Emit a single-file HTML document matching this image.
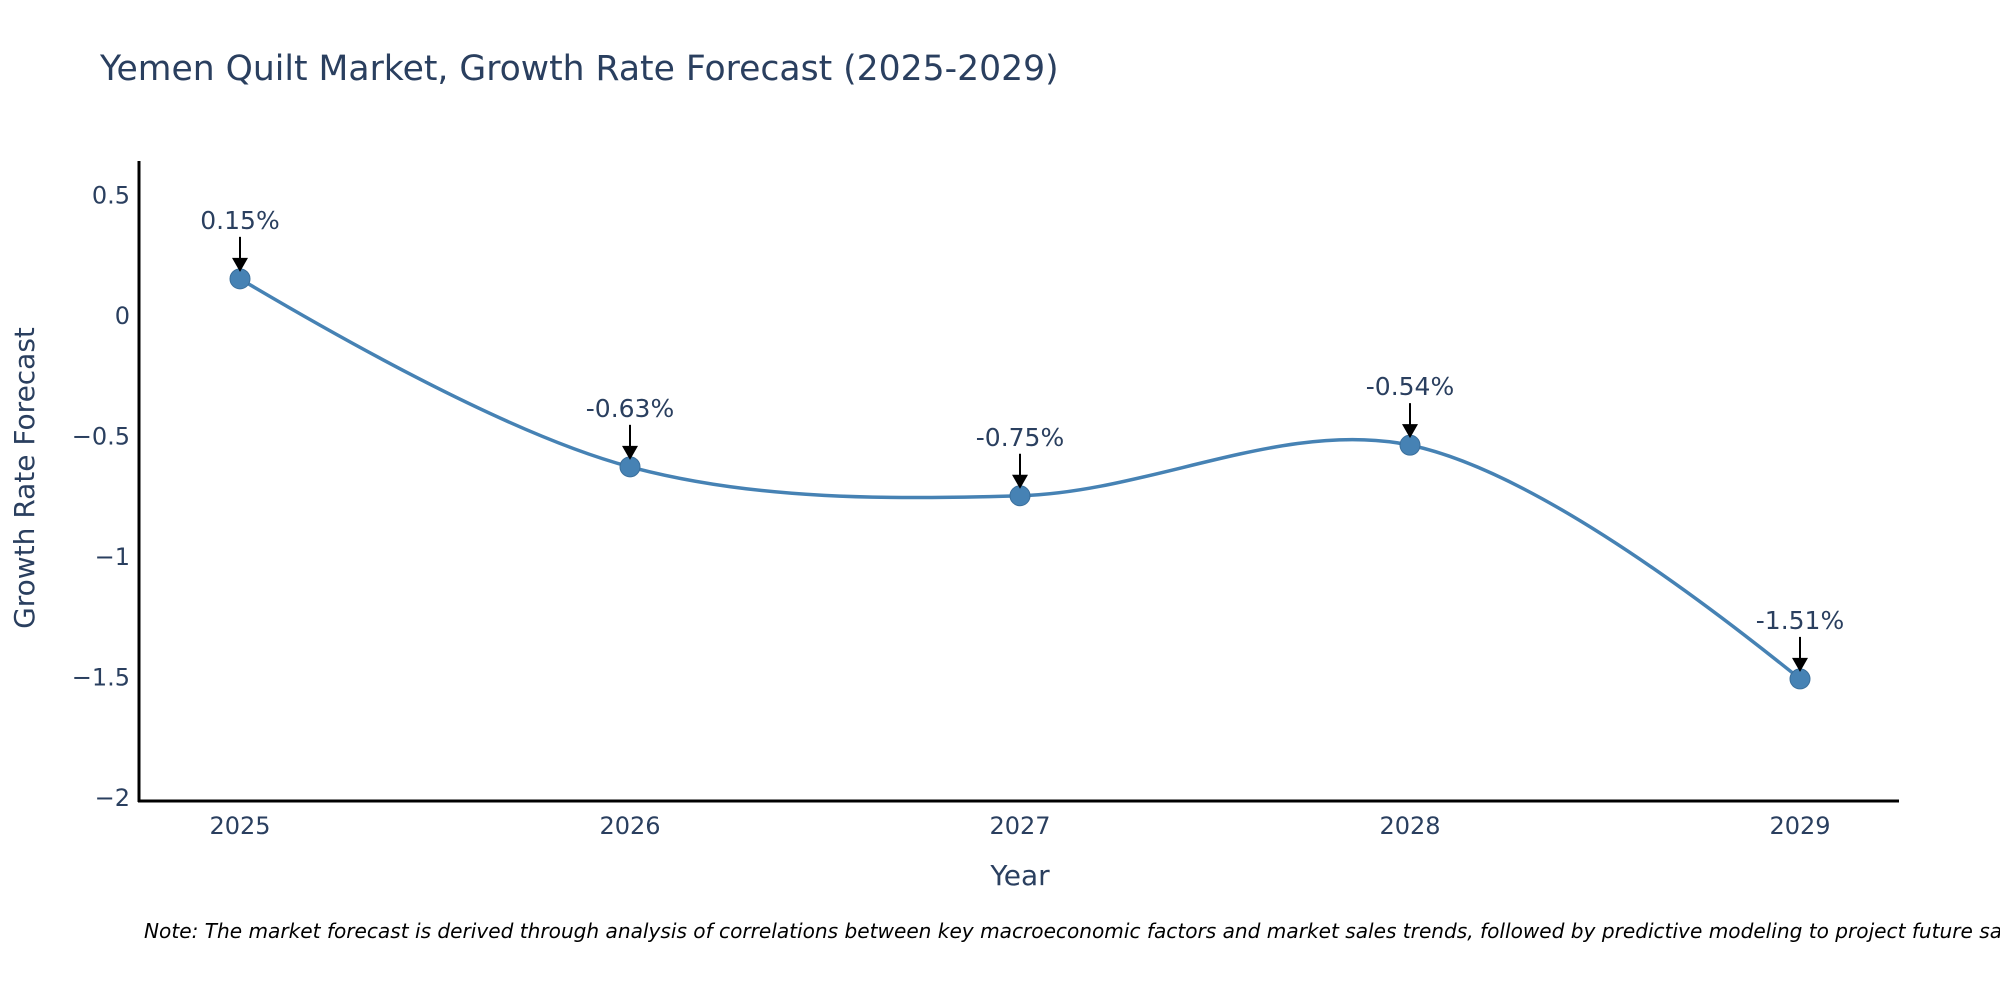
<!DOCTYPE html>
<html><head><meta charset="utf-8">
<style>
html,body{margin:0;padding:0;background:#fff;}
svg{display:block;font-family:"DejaVu Sans","Liberation Sans",sans-serif;}
</style></head>
<body>
<svg id="chart" width="2000" height="1000" viewBox="0 0 2000 1000" xmlns="http://www.w3.org/2000/svg">
<text x="100" y="80" font-size="34.6" fill="#2a3f5f">Yemen Quilt Market, Growth Rate Forecast (2025-2029)</text>
<g id="yticks"></g>
<g id="xticks"></g>
<path id="line" fill="none" stroke="#4682b4" stroke-width="3.5"></path>
<g id="points"></g>
<g id="annos"></g>
<line x1="139" y1="161" x2="139" y2="802" stroke="#000" stroke-width="3"/>
<line x1="138" y1="801" x2="1899" y2="801" stroke="#000" stroke-width="3"/>
<text transform="translate(34,478) rotate(-90)" text-anchor="middle" font-size="28" fill="#2a3f5f">Growth Rate Forecast</text>
<text x="1020" y="885" text-anchor="middle" font-size="28" fill="#2a3f5f">Year</text>
<text x="144" y="938" font-size="20.1" font-style="italic" fill="#000">Note: The market forecast is derived through analysis of correlations between key macroeconomic factors and market sales trends, followed by predictive modeling to project future sales.</text>
</svg>
<script>
const years = [2025, 2026, 2027, 2028, 2029];
const growth = [0.15, -0.63, -0.75, -0.54, -1.51];
const labels = ["0.15%", "-0.63%", "-0.75%", "-0.54%", "-1.51%"];
const yTickVals = [0.5, 0, -0.5, -1, -1.5, -2];
const yTickLabels = ["0.5", "0", "\u22120.5", "\u22121", "\u22121.5", "\u22122"];

const NS = "http://www.w3.org/2000/svg";
function xs(v){ return 240 + (v - 2025) * 390; }
function ys(v){ return 315 - v * 241; }
function mk(tag, attrs, parent){ const e=document.createElementNS(NS,tag); for(const k in attrs) e.setAttribute(k,attrs[k]); parent.appendChild(e); return e; }

const yt = document.getElementById('yticks');
yTickVals.forEach((v,i)=>{
  const t = mk('text',{x:130,y:ys(v)+9,'text-anchor':'end','font-size':24,fill:'#2a3f5f'},yt);
  
  
  t.textContent = yTickLabels[i];
});
const xt = document.getElementById('xticks');
years.forEach(y=>{
  const t = mk('text',{x:xs(y),y:834,'text-anchor':'middle','font-size':24,fill:'#2a3f5f'},xt);
  
  
  t.textContent = String(y);
});

const pts = years.map((y,i)=>[xs(y), ys(growth[i])]);
function tangent(p,c,n,s){
  const d1x=p[0]-c[0], d1y=p[1]-c[1], d2x=n[0]-c[0], d2y=n[1]-c[1];
  const d1a=Math.pow(d1x*d1x+d1y*d1y,0.25), d2a=Math.pow(d2x*d2x+d2y*d2y,0.25);
  const nx=(d2a*d2a*d1x-d1a*d1a*d2x)*s, ny=(d2a*d2a*d1y-d1a*d1a*d2y)*s;
  const den1=3*d2a*(d1a+d2a), den2=3*d1a*(d1a+d2a);
  return [[c[0]+nx/den1, c[1]+ny/den1],[c[0]-nx/den2, c[1]-ny/den2]];
}
const tg=[];
for(let i=1;i<pts.length-1;i++) tg.push(tangent(pts[i-1],pts[i],pts[i+1],1));
let d = 'M'+pts[0]+'Q'+tg[0][0]+' '+pts[1];
for(let i=2;i<pts.length-1;i++) d += 'C'+tg[i-2][1]+' '+tg[i-1][0]+' '+pts[i];
d += 'Q'+tg[pts.length-3][1]+' '+pts[pts.length-1];
document.getElementById('line').setAttribute('d', d);

const pg = document.getElementById('points');
const ag = document.getElementById('annos');
pts.forEach((p,i)=>{
  const c = mk('circle',{cx:p[0],cy:p[1],r:10,fill:'#4682b4',stroke:'#3a6f9c','stroke-width':1},pg);
  
  
  const ln = mk('line',{x1:p[0],y1:p[1]-42,x2:p[0],y2:p[1]-20,stroke:'#000','stroke-width':2},ag);
  
  
  const hd = mk('path',{d:`M${p[0]-8},${p[1]-21} L${p[0]+8},${p[1]-21} L${p[0]},${p[1]-7} Z`,fill:'#000'},ag);
  
  
  const t = mk('text',{x:p[0],y:p[1]-50,'text-anchor':'middle','font-size':25,fill:'#2a3f5f'},ag);
  
  
  t.textContent = labels[i];
});
</script>
</body></html>
